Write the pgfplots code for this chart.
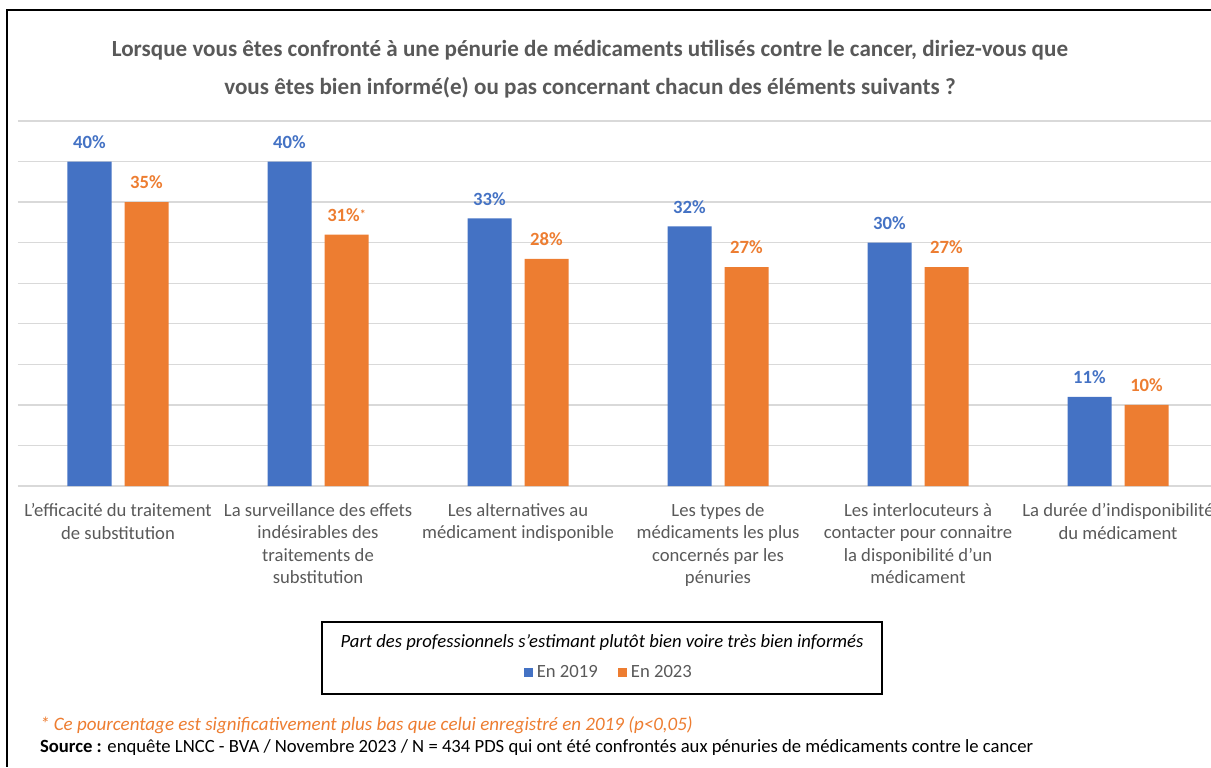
\documentclass[border=0pt]{standalone}
\usepackage{pgfplots}
\pgfplotsset{compat=1.18}
\usepackage{fontspec}
\setmainfont{Carlito}
\newcommand\ap{\char"27\relax}
\definecolor{cblue}{HTML}{4472C4}
\definecolor{corange}{HTML}{ED7D31}
\definecolor{cgrey}{HTML}{595959}
\definecolor{cgrid}{HTML}{D9D9D9}
\begin{document}
\begin{tikzpicture}
\path[use as bounding box] (0,0) rectangle (605.5pt,383.5pt);
\begin{axis}[
  at={(9pt,140.5pt)}, anchor=south west, scale only axis,
  width=596.5pt, height=182.5pt,
  xmin=-0.5, xmax=5.465, ymin=0, ymax=45,
  ybar, bar width=22pt,
  axis line style={draw=none},
  ytick={0,5,...,45}, yticklabels={}, ytick style={draw=none},
  ymajorgrids, major grid style={cgrid, line width=0.7pt},
  xtick={0,...,5}, xtick style={draw=none},
  xticklabels={{L\ap efficacité du traitement\\de substitution},
               {La surveillance des effets\\indésirables des\\traitements de\\substitution},
               {Les alternatives au\\médicament indisponible},
               {Les types de\\médicaments les plus\\concernés par les\\pénuries},
               {Les interlocuteurs à\\contacter pour connaitre\\la disponibilité d\ap un\\médicament},
               {La durée d\ap indisponibilité\\du médicament}},
  x tick label style={align=center, font=\fontsize{9.33}{11.2}\selectfont, text=cgrey, yshift=-1pt},
  nodes near coords, point meta=explicit symbolic,
  every node near coord/.append style={font=\fontsize{9.33}{11}\selectfont\bfseries, yshift=3pt},
  legend style={at={(0.496,-0.512)}, anchor=center, draw=none, fill=none,
    legend columns=2, font=\fontsize{9.33}{11}\selectfont, text=cgrey,
    /tikz/every even column/.append style={column sep=8pt}},
  clip=false,
]
\addplot[fill=cblue, draw=none, bar shift=-14.25pt,
  every node near coord/.append style={text=cblue},
  legend image code/.code={\fill[cblue] (0pt,-2.3pt) rectangle (4.6pt,2.3pt);}]
  coordinates {(0,40) [40\%] (1,40) [40\%] (2,33) [33\%] (3,32) [32\%] (4,30) [30\%] (5,11) [11\%]};
\addlegendentry{En 2019}
\addplot[fill=corange, draw=none, bar shift=14.25pt,
  every node near coord/.append style={text=corange},
  legend image code/.code={\fill[corange] (0pt,-2.3pt) rectangle (4.6pt,2.3pt);}]
  coordinates {(0,35) [35\%] (1,31) [{31\%\raisebox{0.35ex}{\fontsize{6}{6}\selectfont*}}] (2,28) [28\%] (3,27) [27\%] (4,27) [27\%] (5,10) [10\%]};
\addlegendentry{En 2023}
\end{axis}
\begin{scope}[x=0.5pt, y=-0.5pt, shift={(0pt,383.5pt)}]
  \draw[line width=1pt] (1211,10) -- (7,10) -- (7,767);
  \node[font=\fontsize{11.55}{19}\selectfont\bfseries, text=cgrey, align=center] at (590,69)
    {Lorsque vous êtes confronté à une pénurie de médicaments utilisés contre le cancer, diriez-vous que\\
     vous êtes bien informé(e) ou pas concernant chacun des éléments suivants ?};
  \draw[line width=0.7pt] (322,622) rectangle (882,694);
  \node[font=\fontsize{9.33}{11}\selectfont\itshape, text=black] at (602,643)
    {Part des professionnels s\ap estimant plutôt bien voire très bien informés};
  \node[anchor=west, font=\fontsize{9.5}{11}\selectfont\itshape, text=corange] at (33,725)
    {* Ce pourcentage  est significativement plus bas que celui enregistré en 2019  (p<0,05)};
  \node[anchor=west, font=\fontsize{9.33}{11}\selectfont, text=black] at (33,748)
    {\textbf{Source :} enquête LNCC - BVA / Novembre 2023 / N = 434 PDS qui ont été confrontés aux pénuries de médicaments contre le cancer};
\end{scope}
\end{tikzpicture}
\end{document}
